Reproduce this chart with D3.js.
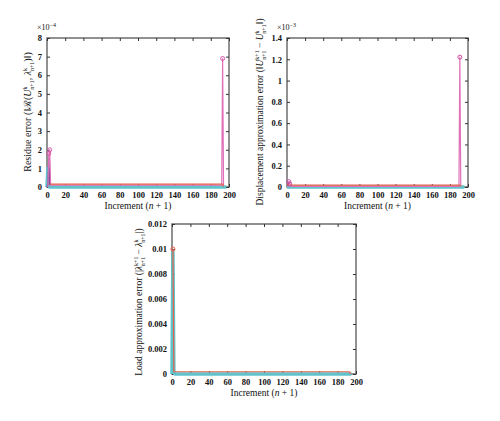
<!DOCTYPE html>
<html>
<head>
<meta charset="utf-8">
<script src="https://cdn.jsdelivr.net/npm/d3@7"></script>
<style>
  body { margin: 0; background: #fff; }
  svg text { font-family: "Liberation Serif", "DejaVu Serif", serif; fill: #111; }
</style>
</head>
<body>
<div id="chart"></div>
<script>
// x ticks shared by all three panels
const xTicks = [0, 20, 40, 60, 80, 100, 120, 140, 160, 180, 200];

// panel 1 : residue error (x 1e-4)
const resTicks = [0, 1, 2, 3, 4, 5, 6, 7, 8];
const resCyan = [[0, 0], [1, 1.0], [2, 0.05], [3, 0], [197, 0]];
const resPurple = [[0, 0], [1, 0.2], [2, 1.5], [3, 0.1]];
const resPink = [[1, 0], [2, 1.8], [3, 2.0], [4, 0.1], [192, 0.1], [193, 6.9], [194, 0.05]];
const resRed = [[3, 0.15], [193, 0.15], [194, 0.02]];
const resMarks = [[2, 1.8], [3, 2.0], [193, 6.9]];

// panel 2 : displacement approximation error (x 1e-3)
const dispTicks = [0, 0.2, 0.4, 0.6, 0.8, 1, 1.2, 1.4];
const dispCyan = [[0, 0], [196, 0]];
const dispPink = [[1, 0], [2, 0.05], [3, 0.03], [4, 0.005], [190, 0.005], [191, 1.22], [192, 0.005]];
const dispRed = [[0, 0.017], [191, 0.017], [192, 0.005]];
const dispMarks = [[2, 0.05], [3, 0.03], [191, 1.22]];

// panel 3 : load approximation error
const loadTicks = [0, 0.002, 0.004, 0.006, 0.008, 0.01, 0.012];
const loadCyan = [[0, 0], [1, 0.0098], [2, 0.0002], [3, 0], [195, 0]];
const loadRed = [[1, 0.01], [2, 0.00018], [193, 0.00018], [194, 0]];
const loadMarks = [[1, 0.01]];

const svg = d3.select("#chart").append("svg")
  .attr("width", 500).attr("height", 421);

function panel(cfg) {
  const x = d3.scaleLinear().domain([0, 200]).range([cfg.left, cfg.right]);
  const y = d3.scaleLinear().domain([0, cfg.yMax]).range([cfg.bottom, cfg.top]);
  const g = svg.append("g");

  // box
  g.append("rect")
    .attr("x", cfg.left).attr("y", cfg.top)
    .attr("width", cfg.right - cfg.left).attr("height", cfg.bottom - cfg.top)
    .attr("fill", "none").attr("stroke", "#6e6e6e").attr("stroke-width", 1.5);

  // inward ticks on all four sides
  const t = 3;
  g.append("g").attr("transform", `translate(0,${cfg.bottom})`)
    .call(d3.axisBottom(x).tickValues(xTicks).tickSize(-t).tickPadding(5))
    .call(a => a.select(".domain").remove());
  g.append("g").attr("transform", `translate(0,${cfg.top})`)
    .call(d3.axisTop(x).tickValues(xTicks).tickSize(-t).tickFormat(""))
    .call(a => a.select(".domain").remove());
  g.append("g").attr("transform", `translate(${cfg.left},0)`)
    .call(d3.axisLeft(y).tickValues(cfg.yTicks).tickSize(-t).tickPadding(5).tickFormat(cfg.fmt))
    .call(a => a.select(".domain").remove());
  g.append("g").attr("transform", `translate(${cfg.right},0)`)
    .call(d3.axisRight(y).tickValues(cfg.yTicks).tickSize(-t).tickFormat(""))
    .call(a => a.select(".domain").remove());
  g.selectAll(".tick line").attr("stroke", "#333").attr("stroke-width", 1);
  g.selectAll(".tick text")
    .style("font-family", "'Liberation Serif', serif")
    .style("font-size", "8.5px").style("font-weight", "bold").style("fill", "#111");

  const line = d3.line().x(d => x(d[0])).y(d => y(d[1]));

  // series drawn over the frame, cyan band first
  cfg.series.forEach(s => {
    g.append("path").datum(s.data)
      .attr("d", line)
      .attr("fill", "none")
      .attr("stroke", s.color)
      .attr("stroke-width", s.width || 1.2)
      .attr("stroke-linejoin", "round");
  });
  g.selectAll(".mk").data(cfg.marks).enter().append("circle")
    .attr("cx", d => x(d[0])).attr("cy", d => y(d[1]))
    .attr("r", 2).attr("fill", "none")
    .attr("stroke", cfg.markColor).attr("stroke-width", 1);

  // x label
  const xl = g.append("text")
    .attr("x", (cfg.left + cfg.right) / 2).attr("y", cfg.bottom + 22)
    .attr("text-anchor", "middle").style("font-size", "9.5px");
  xl.append("tspan").text("Increment (");
  xl.append("tspan").style("font-style", "italic").text("n");
  xl.append("tspan").text(" + 1)");

  // y label
  const yl = g.append("text")
    .attr("transform", `translate(${cfg.ylx},${cfg.yly}) rotate(-90)`)
    .attr("text-anchor", "middle").style("font-size", cfg.ylSize || "9.5px");
  cfg.ylabel(yl);

  // exponent
  if (cfg.expo) {
    const e = g.append("text").attr("x", cfg.left - 10).attr("y", cfg.top - 8)
      .style("font-size", "8px");
    e.append("tspan").text("×10");
    e.append("tspan").attr("baseline-shift", "3").style("font-size", "6px").text(cfg.expo);
  }
}

// letter with stacked superscript / subscript
function subSup(t, base, sup, sub) {
  t.append("tspan").style("font-style", "italic").text(base);
  t.append("tspan").attr("baseline-shift", "4").style("font-size", "6px").text(sup);
  t.append("tspan").attr("baseline-shift", "-2.5").attr("dx", -sup.length * 3.2)
    .style("font-size", "6px").text(sub);
  if (sub.length > sup.length) return;
  t.append("tspan").attr("dx", (sup.length - sub.length) * 3).text("");
}

panel({
  left: 47, right: 229, top: 38, bottom: 187, yMax: 8,
  yTicks: resTicks, fmt: d3.format("d"), expo: "−4",
  series: [
    { data: resCyan, color: "#5ec3cb", width: 3.5 },
    { data: resPurple, color: "#7a4a96" },
    { data: resPink, color: "#e070b8" },
    { data: resRed, color: "#e8604a" }
  ],
  marks: resMarks, markColor: "#d858a8",
  ylx: 31, yly: 112, ylSize: "10px",
  ylabel: t => {
    t.append("tspan").text("Residue error (‖ℛ(");
    subSup(t, "U", "k", "n+1");
    t.append("tspan").text(", ");
    subSup(t, "λ", "k", "n+1");
    t.append("tspan").text(")‖)");
  }
});

panel({
  left: 287, right: 468, top: 38, bottom: 187, yMax: 1.4,
  yTicks: dispTicks, fmt: d => d === 0 || d === 1 ? String(d) : d3.format(".1f")(d), expo: "−3",
  series: [
    { data: dispCyan, color: "#5ec3cb", width: 3.5 },
    { data: dispPink, color: "#e070b8" },
    { data: dispRed, color: "#e8604a" }
  ],
  marks: dispMarks, markColor: "#c94fa0",
  ylx: 263, yly: 112,
  ylabel: t => {
    t.append("tspan").text("Displacement approximation error (‖");
    subSup(t, "U", "k+1", "n+1");
    t.append("tspan").text(" − ");
    subSup(t, "U", "k", "n+1");
    t.append("tspan").text("‖)");
  }
});

panel({
  left: 172, right: 356, top: 224, bottom: 374, yMax: 0.012,
  yTicks: loadTicks, fmt: d => d === 0 ? "0" : String(d), expo: null,
  series: [
    { data: loadCyan, color: "#5ec3cb", width: 3.5 },
    { data: loadRed, color: "#e8604a" }
  ],
  marks: loadMarks, markColor: "#e8604a",
  ylx: 142, yly: 302,
  ylabel: t => {
    t.append("tspan").text("Load approximation error (|");
    subSup(t, "λ", "k+1", "n+1");
    t.append("tspan").text(" − ");
    subSup(t, "λ", "k", "n+1");
    t.append("tspan").text("|)");
  }
});
</script>
</body>
</html>
